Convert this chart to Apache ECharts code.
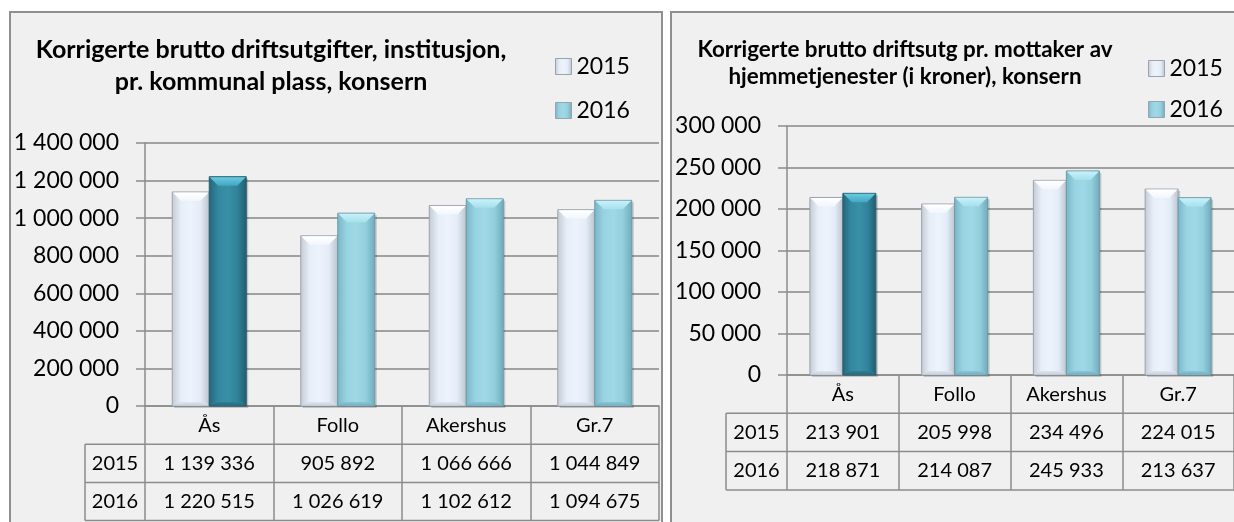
<!DOCTYPE html>
<html>
<head>
<meta charset="utf-8">
<script src="https://cdn.jsdelivr.net/npm/echarts@6/dist/echarts.min.js"></script>
<style>
html,body{margin:0;padding:0;background:#fff;}
#chart{width:1234px;height:522px;}
</style>
</head>
<body>
<div id="chart"></div>
<script>
// ---- data ----
const categories = ['Ås', 'Follo', 'Akershus', 'Gr.7'];
const seriesNames = ['2015', '2016'];
const instTitle = ['Korrigerte brutto driftsutgifter, institusjon,', 'pr. kommunal plass, konsern'];
const inst2015 = [1139336, 905892, 1066666, 1044849];
const inst2016 = [1220515, 1026619, 1102612, 1094675];
const instTicks = [0, 200000, 400000, 600000, 800000, 1000000, 1200000, 1400000];
const homeTitle = ['Korrigerte brutto driftsutg pr. mottaker av', 'hjemmetjenester (i kroner), konsern'];
const home2015 = [213901, 205998, 234496, 224015];
const home2016 = [218871, 214087, 245933, 213637];
const homeTicks = [0, 50000, 100000, 150000, 200000, 250000, 300000];
const highlightIndex = 0; // Ås 2016 drawn in dark teal

// ---- helpers ----
const FONT = 'Lato';
const fmt = v => String(v).replace(/\B(?=(\d{3})+(?!\d))/g, ' ');
const G = echarts.graphic;
const hgrad = stops => new G.LinearGradient(0, 0, 1, 0, stops.map((c, i) => ({offset: i / (stops.length - 1), color: c})));
const vgrad = (a, b) => new G.LinearGradient(0, 0, 0, 1, [{offset: 0, color: a}, {offset: 1, color: b}]);
const PAL = {
  p2015: {body: ['#c3cad4', '#e6eef8', '#edf3fc', '#e4ecf7', '#b9c2cd'], top: ['#ffffff', '#f2f6fc'], bot: ['#dde5f0', '#c9d1dc'], stroke: '#9aa3ad'},
  p2016: {body: ['#78b6c6', '#98d3e1', '#a0d8e5', '#93cfdd', '#6eabbb'], top: ['#c8f1fa', '#a6e0ec'], bot: ['#8ac7d6', '#74afbe'], stroke: '#6f9aa6'},
  dark:  {body: ['#24657a', '#33889f', '#3890a7', '#31839a', '#215d6e'], top: ['#66cbe4', '#45a5bf'], bot: ['#2f7f95', '#266a7d'], stroke: '#2a5d6b'}
};
const GRID = '#878787';
const LINE = '#8c8c8c';

// layout
const L = {left: 145, right: 659, top: 143, bottom: 406, rowH: 38.2, labelColL: 85, titleX: 271, titleY: [50, 82], titleSize: 25, legendX: 550, legendTop: 50, legendGap: 21, legendSize: 23, barW: 37};
const R = {left: 787, right: 1244, top: 126, bottom: 375, rowH: 38.3, labelColL: 726, titleX: 905, titleY: [50, 77], titleSize: 22.4, legendX: 1143, legendTop: 52, legendGap: 18, legendSize: 23, barW: 33};

function tableGraphics(P) {
  const g = [];
  const y1 = P.bottom + P.rowH, y2 = y1 + P.rowH, y3 = y2 + P.rowH;
  [y1, y2, y3].forEach(y => g.push({type: 'line', shape: {x1: P.labelColL, y1: y, x2: P.right, y2: y}, style: {stroke: LINE, lineWidth: 1.5}, silent: true}));
  g.push({type: 'line', shape: {x1: P.labelColL, y1: y1, x2: P.labelColL, y2: y3}, style: {stroke: LINE, lineWidth: 1.5}, silent: true});
  seriesNames.forEach((n, i) => g.push({type: 'text', x: (P.labelColL + P.left) / 2, y: P.bottom + P.rowH * (i + 1.5),
    style: {text: n, font: `20px ${FONT}`, fill: '#000', textAlign: 'center', textVerticalAlign: 'middle'}, silent: true}));
  return g;
}
function titleGraphics(P, lines) {
  return lines.map((t, i) => ({type: 'text', x: P.titleX, y: P.titleY[i],
    style: {text: t, font: `bold ${P.titleSize}px ${FONT}`, fill: '#000', textAlign: 'center', textVerticalAlign: 'middle'}, silent: true}));
}

function xAxisFor(P, gi, a, b) {
  return {
    type: 'category', gridIndex: gi, data: categories,
    axisLine: {lineStyle: {color: LINE, width: 1.5}},
    axisTick: {show: true, length: P.rowH * 3, lineStyle: {color: LINE, width: 1.5}},
    axisLabel: {margin: 0, fontFamily: FONT, fontSize: 20, color: '#000', lineHeight: P.rowH, interval: 0,
      formatter: (v, i) => `${v}\n${fmt(a[i])}\n${fmt(b[i])}`}
  };
}
function yAxisFor(P, gi, ticks) {
  return {
    type: 'value', gridIndex: gi, min: ticks[0], max: ticks[ticks.length - 1], interval: ticks[1] - ticks[0],
    axisLine: {show: true, lineStyle: {color: LINE, width: 1.5}},
    axisTick: {show: true, length: 9, lineStyle: {color: LINE, width: 1.5}},
    splitLine: {lineStyle: {color: GRID, width: 1.5}},
    axisLabel: {margin: 26, fontFamily: FONT, fontSize: 23, color: '#000', formatter: v => fmt(v)}
  };
}
// bevelled bar drawn through the axes' own coordinate conversion
function bevelSeries(P, gi, name, vals, side, pal, hl) {
  return {
    type: 'custom', name, xAxisIndex: gi, yAxisIndex: gi,
    itemStyle: {color: hgrad(pal.body)},
    encode: {x: 0, y: 1},
    data: vals.map((v, i) => [i, v]),
    renderItem: (params, api) => {
      const i = api.value(0), v = api.value(1);
      const p = (hl && i === highlightIndex) ? PAL.dark : pal;
      const top = api.coord([i, v]), base = api.coord([i, 0]);
      const w = P.barW, x0 = top[0] + (side < 0 ? -w : 0), y0 = top[1], h = base[1] - top[1];
      const d = 9, e = 4;
      return {type: 'group', children: [
        {type: 'rect', shape: {x: x0 + 2, y: y0 + 2, width: w, height: h}, style: {fill: 'rgba(0,0,0,0.18)'}},
        {type: 'rect', shape: {x: x0, y: y0, width: w, height: h}, style: {fill: hgrad(p.body), stroke: p.stroke, lineWidth: 1}},
        {type: 'polygon', shape: {points: [[x0 + 0.5, y0 + 0.5], [x0 + w - 0.5, y0 + 0.5], [x0 + w - d, y0 + d], [x0 + d, y0 + d]]}, style: {fill: vgrad(p.top[0], p.top[1])}},
        {type: 'polygon', shape: {points: [[x0 + 0.5, y0 + h - 0.5], [x0 + w - 0.5, y0 + h - 0.5], [x0 + w - e, y0 + h - e], [x0 + e, y0 + h - e]]}, style: {fill: vgrad(p.bot[0], p.bot[1])}}
      ]};
    }
  };
}
function legendFor(P) {
  return {data: seriesNames, orient: 'vertical', left: P.legendX, top: P.legendTop, itemGap: P.legendGap,
    icon: 'rect', itemWidth: 16, itemHeight: 16, selectedMode: false,
    itemStyle: {borderColor: '#9aa3ad', borderWidth: 1},
    textStyle: {fontFamily: FONT, fontSize: P.legendSize, lineHeight: 22, color: '#000'}};
}

const chart = echarts.init(document.getElementById('chart'), null, {renderer: 'canvas'});
chart.setOption({
  backgroundColor: '#ffffff',
  animation: false,
  grid: [
    {left: L.left, top: L.top, width: L.right - L.left, height: L.bottom - L.top},
    {left: R.left, top: R.top, width: R.right - R.left, height: R.bottom - R.top}
  ],
  legend: [legendFor(L), legendFor(R)],
  xAxis: [xAxisFor(L, 0, inst2015, inst2016), xAxisFor(R, 1, home2015, home2016)],
  yAxis: [yAxisFor(L, 0, instTicks), yAxisFor(R, 1, homeTicks)],
  series: [
    bevelSeries(L, 0, seriesNames[0], inst2015, -1, PAL.p2015, false),
    bevelSeries(L, 0, seriesNames[1], inst2016, 1, PAL.p2016, true),
    bevelSeries(R, 1, seriesNames[0], home2015, -1, PAL.p2015, false),
    bevelSeries(R, 1, seriesNames[1], home2016, 1, PAL.p2016, true)
  ],
  graphic: [
    {type: 'rect', z: -10, shape: {x: 10, y: 12, width: 652, height: 530}, style: {fill: '#f0f0f0', stroke: '#8f8f8f', lineWidth: 2}, silent: true},
    {type: 'rect', z: -10, shape: {x: 671, y: 12, width: 600, height: 530}, style: {fill: '#f0f0f0', stroke: '#8f8f8f', lineWidth: 2}, silent: true},
    ...titleGraphics(L, instTitle), ...titleGraphics(R, homeTitle),
    ...tableGraphics(L), ...tableGraphics(R)
  ]
});
</script>
</body>
</html>
